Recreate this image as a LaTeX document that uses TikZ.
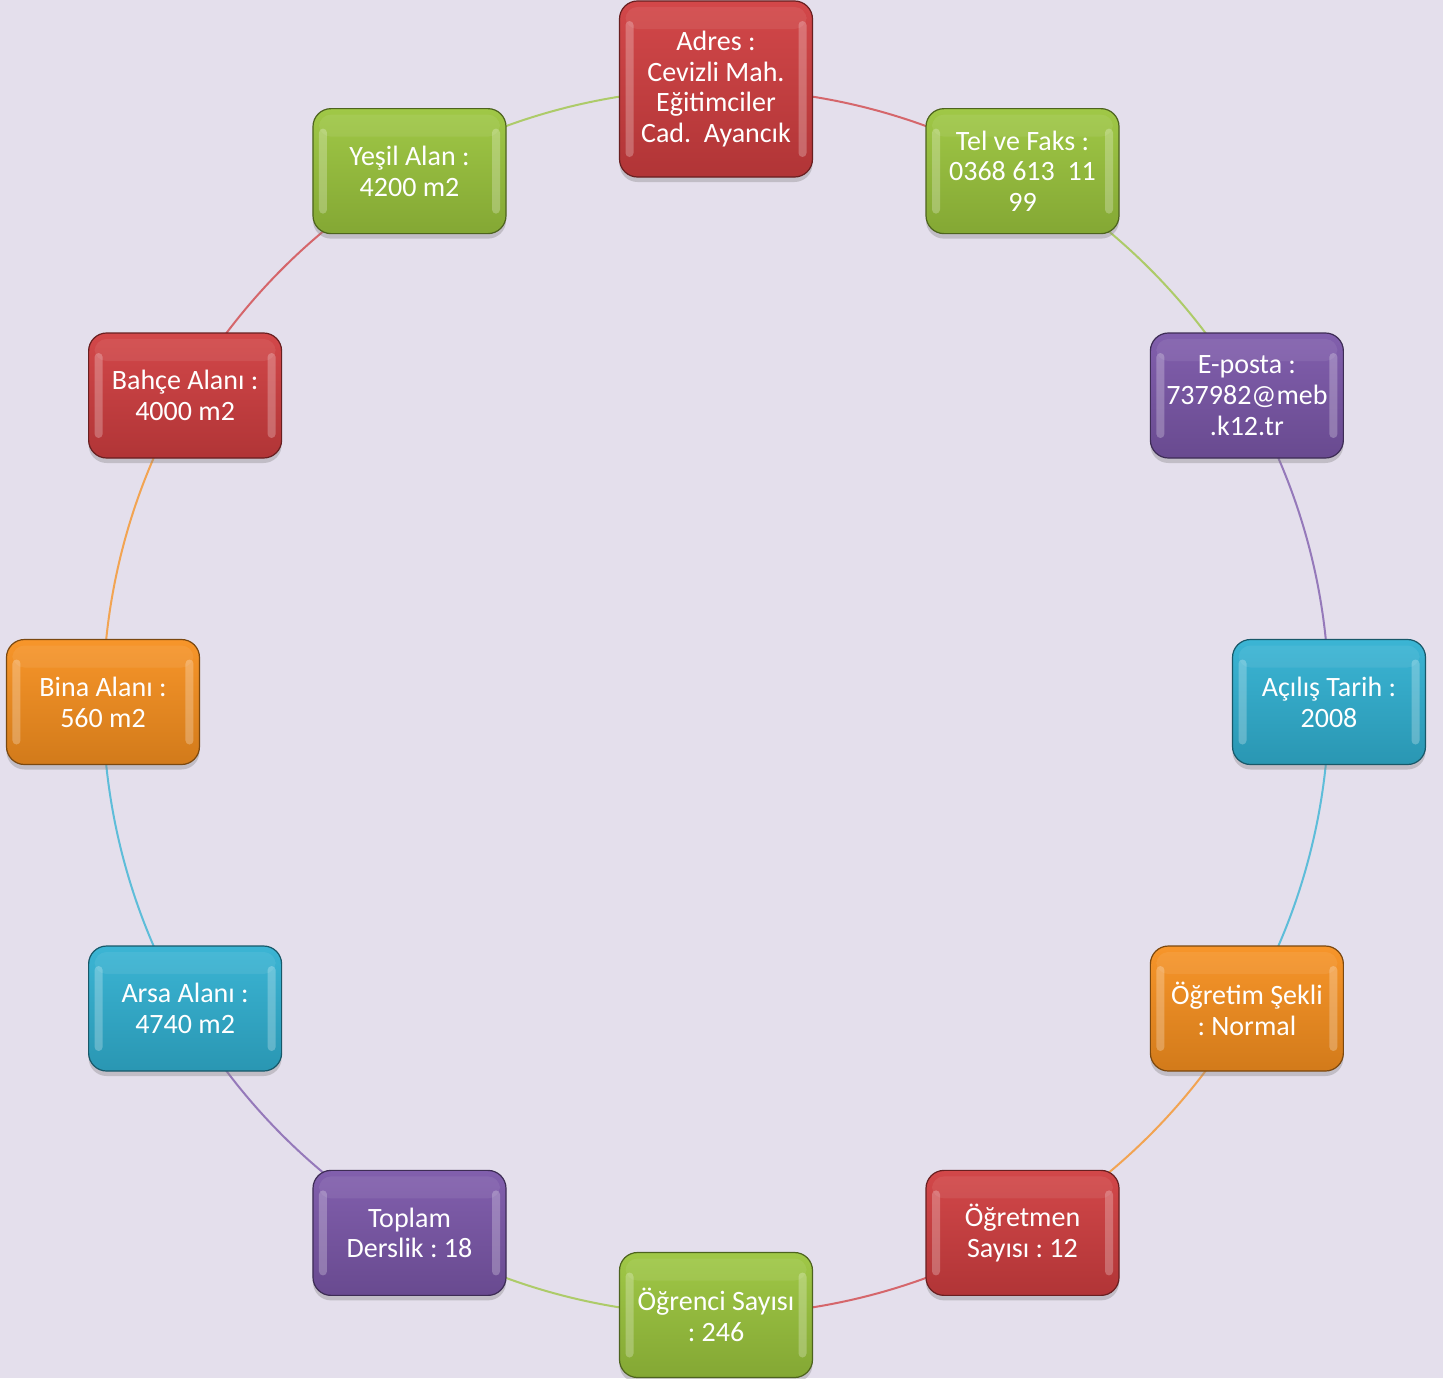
\documentclass[tikz,border=0pt]{standalone}
\usepackage{fontspec}
\setmainfont{Carlito}
\frenchspacing
\usetikzlibrary{shadows}
\definecolor{bgc}{HTML}{E4DFEC}
\definecolor{cred}{HTML}{D03E40}
\definecolor{cgreen}{HTML}{9BC53D}
\definecolor{cpurple}{HTML}{7B57A9}
\definecolor{cblue}{HTML}{31B1D2}
\definecolor{corange}{HTML}{F7901F}
\pgfdeclarelayer{bg}
\pgfsetlayers{bg,main}
\tikzset{
  cyclebox/.style={rectangle, rounded corners=9pt, minimum width=96.5pt,
    minimum height=62.5pt, inner sep=1pt, align=center, text=white,
    font=\fontsize{14}{15.4}\selectfont,
    draw=#1!50!black, line width=0.6pt,
    top color=#1!95!white, bottom color=#1!85!black,
    drop shadow={shadow xshift=0pt, shadow yshift=-2.5pt, opacity=0.35},
    path picture={
      \fill[white, opacity=0.25, rounded corners=2pt]
        ([xshift=3pt,yshift=-10pt]path picture bounding box.north west)
        rectangle ([xshift=7pt,yshift=10pt]path picture bounding box.south west);
      \fill[white, opacity=0.25, rounded corners=2pt]
        ([xshift=-3pt,yshift=-10pt]path picture bounding box.north east)
        rectangle ([xshift=-7pt,yshift=10pt]path picture bounding box.south east);
      \fill[white, opacity=0.07, rounded corners=6pt]
        ([xshift=3pt,yshift=-3pt]path picture bounding box.north west)
        rectangle ([xshift=-3pt,yshift=-14pt]path picture bounding box.north east);
    }},
  arcline/.style={draw=#1!75!bgc, line width=1pt},
}
\begin{document}
\begin{tikzpicture}
\useasboundingbox (-358pt,-338pt) rectangle (363.5pt,351pt);
\node[cyclebox=cred, minimum height=88pt] (n0) at (90:306.5pt) {Adres :\\Cevizli Mah.\\Eğitimciler\\Cad.\ \ Ayancık};
\node[cyclebox=cgreen] (n1) at (60:306.5pt) {Tel ve Faks :\\0368 613\ \ 11\\99};
\node[cyclebox=cpurple] (n2) at (30:306.5pt) {E-posta :\\737982@meb\\.k12.tr};
\node[cyclebox=cblue] (n3) at (0:306.5pt) {Açılış Tarih :\\2008};
\node[cyclebox=corange] (n4) at (-30:306.5pt) {Öğretim Şekli\\: Normal};
\node[cyclebox=cred] (n5) at (-60:306.5pt) {Öğretmen\\Sayısı : 12};
\node[cyclebox=cgreen] (n6) at (-90:306.5pt) {Öğrenci Sayısı\\: 246};
\node[cyclebox=cpurple] (n7) at (-120:306.5pt) {Toplam\\Derslik : 18};
\node[cyclebox=cblue] (n8) at (-150:306.5pt) {Arsa Alanı :\\4740 m2};
\node[cyclebox=corange] (n9) at (180:306.5pt) {Bina Alanı :\\560 m2};
\node[cyclebox=cred] (n10) at (150:306.5pt) {Bahçe Alanı :\\4000 m2};
\node[cyclebox=cgreen] (n11) at (120:306.5pt) {Yeşil Alan :\\4200 m2};
\begin{pgfonlayer}{bg}
\fill[bgc] (-358pt,-338pt) rectangle (363.5pt,351pt);
\draw[arcline=cred] (n0.center) arc[start angle=90, end angle=60, radius=306.5pt];
\draw[arcline=cgreen] (n1.center) arc[start angle=60, end angle=30, radius=306.5pt];
\draw[arcline=cpurple] (n2.center) arc[start angle=30, end angle=0, radius=306.5pt];
\draw[arcline=cblue] (n3.center) arc[start angle=0, end angle=-30, radius=306.5pt];
\draw[arcline=corange] (n4.center) arc[start angle=-30, end angle=-60, radius=306.5pt];
\draw[arcline=cred] (n5.center) arc[start angle=-60, end angle=-90, radius=306.5pt];
\draw[arcline=cgreen] (n6.center) arc[start angle=-90, end angle=-120, radius=306.5pt];
\draw[arcline=cpurple] (n7.center) arc[start angle=-120, end angle=-150, radius=306.5pt];
\draw[arcline=cblue] (n8.center) arc[start angle=-150, end angle=-180, radius=306.5pt];
\draw[arcline=corange] (n9.center) arc[start angle=180, end angle=150, radius=306.5pt];
\draw[arcline=cred] (n10.center) arc[start angle=150, end angle=120, radius=306.5pt];
\draw[arcline=cgreen] (n11.center) arc[start angle=120, end angle=90, radius=306.5pt];
\end{pgfonlayer}
\end{tikzpicture}
\end{document}
